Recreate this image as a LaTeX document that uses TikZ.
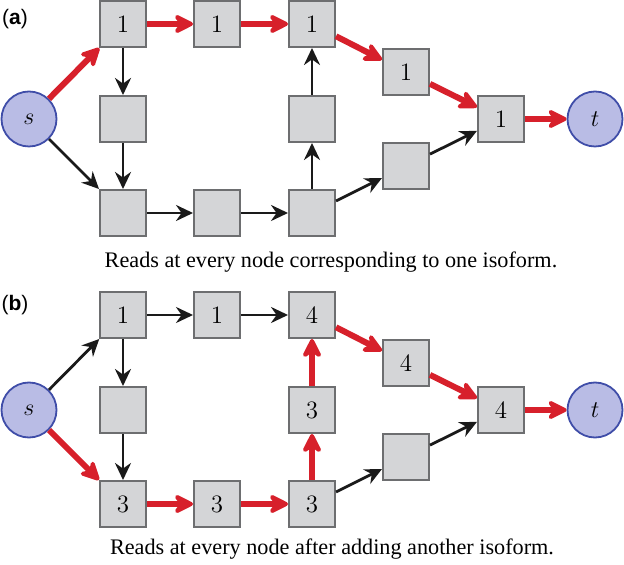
\documentclass[tikz,border=0pt]{standalone}
\usepackage{fontspec}
\newfontfamily\capfont{Liberation Serif}
\newfontfamily\labfont{Liberation Sans}
\usetikzlibrary{arrows.meta}
\definecolor{boxfill}{HTML}{D4D5D7}
\definecolor{boxline}{HTML}{6D6E70}
\definecolor{circfill}{HTML}{B9BCE5}
\definecolor{circline}{HTML}{3F4DA8}
\definecolor{redarr}{HTML}{D7202B}
\definecolor{blkarr}{HTML}{1A1A1A}
\tikzset{
  box/.style={draw=boxline, fill=boxfill, line width=1pt, minimum size=23pt, inner sep=0pt, font=\fontsize{12.5}{14}\selectfont},
  term/.style={circle, draw=circline, fill=circfill, line width=0.9pt, minimum size=27.5pt, inner sep=0pt, font=\fontsize{12}{14}\selectfont},
  redline/.style={draw=redarr, line width=3pt, -{Stealth[length=12pt,width=12pt,inset=4pt,round]}},
  blkline/.style={draw=blkarr, line width=1.4pt, -{Stealth[length=8.5pt,width=8pt,inset=2.8pt]}},
  caption/.style={font=\capfont\fontsize{11.1}{13}\selectfont, anchor=base, inner sep=0pt},
  panlabel/.style={font=\labfont\fontsize{10.5}{12}\selectfont, inner sep=0pt}
}
\begin{document}
\begin{tikzpicture}[x=0.5pt,y=-0.5pt]
\useasboundingbox (0,0) rectangle (624,565);
% ---------- panel (a) ----------
\node[panlabel] (la) at (15,19) {(\textbf{a})};
\node[term] (as) at (29,119) {$s$};
\node[term] (at) at (595,119) {$t$};
\node[box] (aA1) at (123,24) {1};
\node[box] (aA2) at (217,24) {1};
\node[box] (aA3) at (312,24) {1};
\node[box] (aL2) at (123,119) {};
\node[box] (aB1) at (123,213) {};
\node[box] (aB2) at (217,213) {};
\node[box] (aB3) at (312,213) {};
\node[box] (aM3) at (312,119) {};
\node[box] (aR1) at (406,72) {1};
\node[box] (aR2) at (406,166) {};
\node[box] (aF) at (501,119) {1};
\draw[redline] (as) -- (aA1);
\draw[redline] (aA1) -- (aA2);
\draw[redline] (aA2) -- (aA3);
\draw[redline] (aA3) -- (aR1);
\draw[redline] (aR1) -- (aF);
\draw[redline] (aF) -- (at);
\draw[blkline] (aA1) -- (aL2);
\draw[blkline] (aL2) -- (aB1);
\draw[blkline] (as) -- (aB1);
\draw[blkline] (aB1) -- (aB2);
\draw[blkline] (aB2) -- (aB3);
\draw[blkline] (aB3) -- (aM3);
\draw[blkline] (aM3) -- (aA3);
\draw[blkline] (aB3) -- (aR2);
\draw[blkline] (aR2) -- (aF);
\node[caption] (ca) at (331,268) {Reads at every node corresponding to one isoform.};
% ---------- panel (b) ----------
\begin{scope}[shift={(0,291)}]
\node[panlabel] (lb) at (15,14) {(\textbf{b})};
\node[term] (bs) at (29,119) {$s$};
\node[term] (bt) at (595,119) {$t$};
\node[box] (bA1) at (123,24) {1};
\node[box] (bA2) at (217,24) {1};
\node[box] (bA3) at (312,24) {4};
\node[box] (bL2) at (123,119) {};
\node[box] (bB1) at (123,213) {3};
\node[box] (bB2) at (217,213) {3};
\node[box] (bB3) at (312,213) {3};
\node[box] (bM3) at (312,119) {3};
\node[box] (bR1) at (406,72) {4};
\node[box] (bR2) at (406,166) {};
\node[box] (bF) at (501,119) {4};
\end{scope}
\draw[blkline] (bs) -- (bA1);
\draw[blkline] (bA1) -- (bA2);
\draw[blkline] (bA2) -- (bA3);
\draw[blkline] (bA1) -- (bL2);
\draw[blkline] (bL2) -- (bB1);
\draw[blkline] (bB3) -- (bR2);
\draw[blkline] (bR2) -- (bF);
\draw[redline] (bs) -- (bB1);
\draw[redline] (bB1) -- (bB2);
\draw[redline] (bB2) -- (bB3);
\draw[redline] (bB3) -- (bM3);
\draw[redline] (bM3) -- (bA3);
\draw[redline] (bA3) -- (bR1);
\draw[redline] (bR1) -- (bF);
\draw[redline] (bF) -- (bt);
\node[caption] (cb) at (332,554) {Reads at every node after adding another isoform.};
\end{tikzpicture}
\end{document}
